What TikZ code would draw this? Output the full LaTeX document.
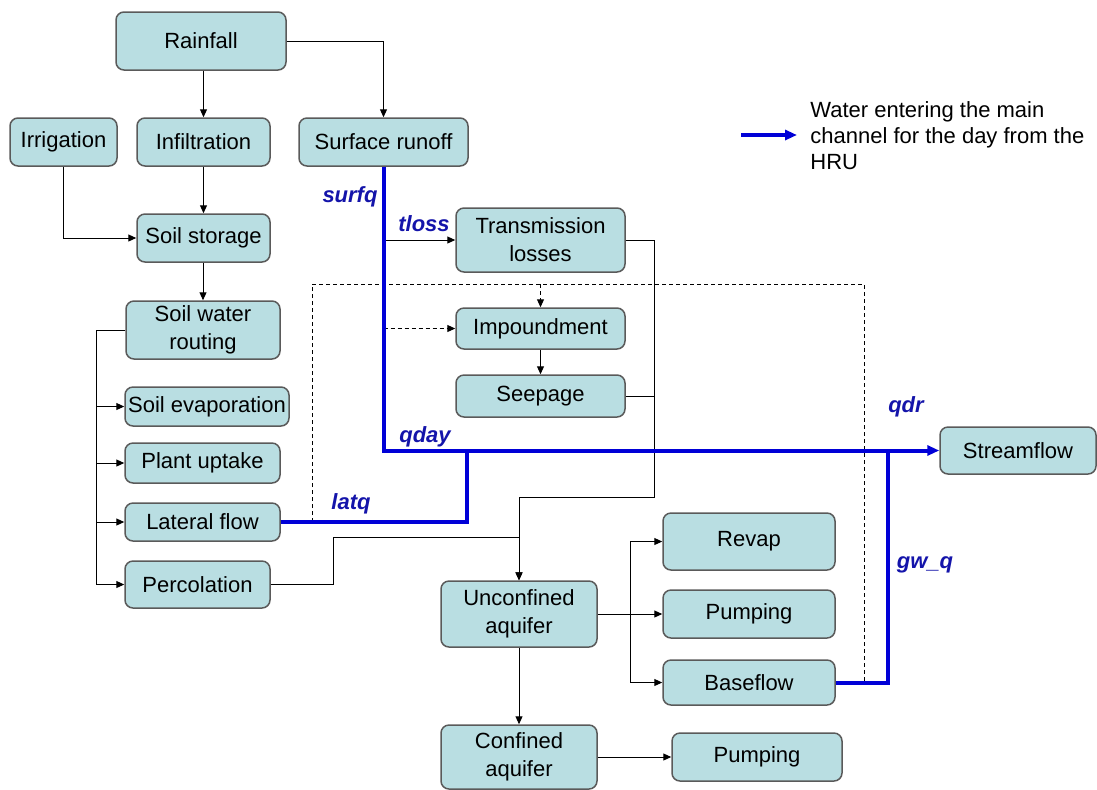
\documentclass[tikz,border=0pt]{standalone}
\usepackage{fontspec}
\setmainfont{Liberation Sans}
\usepackage{xcolor}
\usepackage{tikz}
\usetikzlibrary{
  positioning,
  arrows.meta,
  calc
}
\definecolor{BoxFill}{RGB}{185,222,226}
\definecolor{BoxLine}{RGB}{90,90,90}
\definecolor{FlowBlue}{RGB}{0,0,215}
\definecolor{TagBlue}{RGB}{20,20,170}

\begin{document}
\begin{tikzpicture}[x=0.5pt,y=-0.5pt,
  font=\fontsize{11}{14}\selectfont,
  box/.style={draw=BoxLine, line width=0.75pt, fill=BoxFill,
    rounded corners=4pt, align=center, inner sep=1pt},
  arr/.style={-{Triangle[length=4pt,width=3.5pt]}, line width=0.5pt},
  flow/.style={FlowBlue, line width=2pt},
  dsh/.style={line width=0.5pt, dash pattern=on 2pt off 1.5pt},
  tag/.style={TagBlue, font=\fontsize{11}{13}\selectfont\bfseries\itshape}]
  \useasboundingbox (0,0) rectangle (1097,789);

  % ---------- 方框 ----------
  \node[box, minimum width=85pt, minimum height=29pt] (rain) at (201,41) {Rainfall};
  \node[box, minimum width=53.5pt, minimum height=24pt] (irrig) at (63.5,142) {Irrigation};
  \node[box, minimum width=66.5pt, minimum height=24pt] (infil) at (203.5,142) {Infiltration};
  \node[box, minimum width=84.5pt, minimum height=24pt] (surf) at (383.5,142) {Surface runoff};
  \node[box, minimum width=66.5pt, minimum height=24pt] (store) at (203.5,238) {Soil storage};
  \node[box, minimum width=77pt, minimum height=29pt] (route) at (203,330) {Soil water\\routing};
  \node[box, minimum width=82pt, minimum height=19.5pt] (evap) at (207,406.5) {Soil evaporation};
  \node[box, minimum width=77.5pt, minimum height=20pt] (plant) at (202.5,463) {Plant uptake};
  \node[box, minimum width=77.5pt, minimum height=19pt] (lat) at (202.5,522) {Lateral flow};
  \node[box, minimum width=72.5pt, minimum height=23.5pt] (perc) at (197.5,584.5) {Percolation};
  \node[box, minimum width=84.5pt, minimum height=32pt] (trans) at (540.5,240) {Transmission\\losses};
  \node[box, minimum width=84.5pt, minimum height=20.5pt] (imp) at (540.5,328.5) {Impoundment};
  \node[box, minimum width=84.5pt, minimum height=21pt] (seep) at (540.5,396) {Seepage};
  \node[box, minimum width=78pt, minimum height=33pt] (unconf) at (519,614) {Unconfined\\aquifer};
  \node[box, minimum width=78pt, minimum height=32pt] (conf) at (519,757) {Confined\\aquifer};
  \node[box, minimum width=86pt, minimum height=28.5pt] (revap) at (749,541.5) {Revap};
  \node[box, minimum width=86pt, minimum height=24pt] (pump1) at (749,614) {Pumping};
  \node[box, minimum width=86pt, minimum height=22.5pt] (base) at (749,682.5) {Baseflow};
  \node[box, minimum width=85pt, minimum height=24pt] (pump2) at (757,757) {Pumping};
  \node[box, minimum width=78pt, minimum height=23.5pt] (stream) at (1018,450.5) {Streamflow};

  % 折点
  \coordinate (bx) at (96,0);
  \coordinate (bb) at (630,0);
  \coordinate (j1) at (654,497);
  \coordinate (j2) at (333,537);
  \coordinate (j3) at (467,451);
  \coordinate (j4) at (888,451);
  \coordinate (dl) at (312,284);
  \coordinate (dr) at (864,284);

  % ---------- 虚线 ----------
  \draw[dsh] (dl |- lat.east) -- (dl) -- (dr) -- (dr |- base.east);
  \draw[dsh,arr] (imp.north |- dl) -- (imp.north);
  \draw[dsh,arr] (surf.south |- imp.west) -- (imp.west);

  % ---------- 细线 ----------
  \draw[arr] (infil.north |- rain.south) -- (infil.north);
  \draw[arr] (rain.east) -| (surf.north);
  \draw[arr] (infil.south) -- (store.north);
  \draw[arr] (irrig.south) |- (store.west);
  \draw[arr] (route.north |- store.south) -- (route.north);
  \draw (route.west) -| (bx |- perc.west);
  \foreach \n in {evap,plant,lat,perc}
    \draw[arr] (bx |- \n.west) -- (\n.west);
  \draw[arr] (surf.south |- trans.west) -- (trans.west);
  \draw[arr] (imp.south) -- (seep.north);
  \draw[arr] (trans.east) -| (j1) -| (unconf.north);
  \draw (seep.east) -- (seep.east -| j1);
  \draw[arr] (perc.east) -| (j2) -| (unconf.north);
  \draw[arr] (unconf.east) -- (pump1.west);
  \draw[arr] (bb |- unconf.east) |- (revap.west);
  \draw[arr] (bb |- unconf.east) |- (base.west);
  \draw[arr] (unconf.south) -- (conf.north);
  \draw[arr] (conf.east) -- (pump2.west);

  % ---------- 入河水量 ----------
  \draw[flow,-{Triangle[length=6pt,width=5pt]}] (surf.south) |- (stream.west);
  \draw[flow] (lat.east) -| (j3);
  \draw[flow] (base.east) -| (j4);

  \node[tag] (surfq) at (350,197) {surfq};
  \node[tag] (tloss) at (424,224) {tloss};
  \node[tag] (qday) at (425,437) {qday};
  \node[tag] (latq) at (351,504) {latq};
  \node[tag] (qdr) at (906,407) {qdr};
  \node[tag] (gwq) at (925,565) {gw\_q};

  % 图例
  \coordinate (lega) at (741,135);
  \coordinate (legb) at (797,135);
  \draw[flow,-{Triangle[length=6pt,width=5pt]}] (lega) -- (legb);
  \node[anchor=west, align=left, inner sep=0pt,
    font=\fontsize{11}{13}\selectfont] (legtext) at (810,136)
    {Water entering the main\\channel for the day from the\\HRU};
\end{tikzpicture}
\end{document}
